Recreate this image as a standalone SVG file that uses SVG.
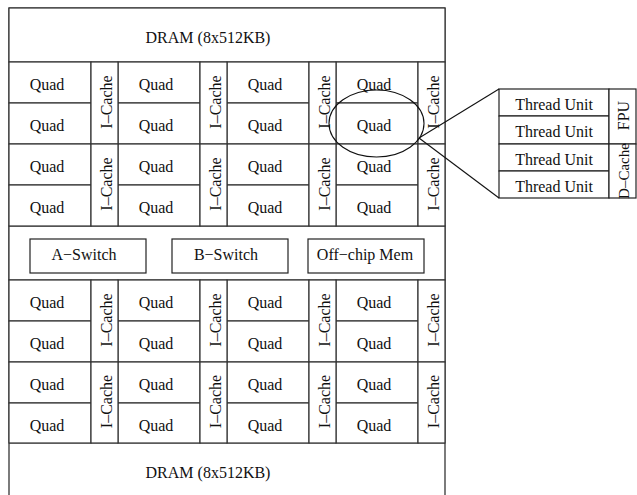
<svg xmlns="http://www.w3.org/2000/svg" width="637" height="495" viewBox="0 0 637 495">
<style>
.c{fill:#fff;stroke:#333;stroke-width:1.2}
.b{fill:#fff;stroke:#222;stroke-width:1.2}
.t{font-family:"Liberation Serif","Times New Roman",serif;font-size:16px;fill:#111;text-anchor:middle}
.ln{fill:none;stroke:#111;stroke-width:1.1}
</style>
<rect width="637" height="495" fill="#fff"/>
<g id="frame"><path d="M9,495 V8 H445 V495" class="ln" stroke="#333"/></g>
<g id="dram-top"><rect x="9" y="8" width="436" height="54" class="c"/><text class="t" x="208" y="42.5">DRAM (8x512KB)</text></g>
<g id="dram-bottom"><path d="M9,443 H445" class="c"/><text class="t" x="208" y="478">DRAM (8x512KB)</text></g>
<g id="switch-row"><rect x="9" y="226" width="436" height="54" class="c"/></g>
<g id="a-switch"><rect x="30" y="239" width="116" height="34" class="b"/><text class="t" x="84" y="260">A−Switch</text></g>
<g id="b-switch"><rect x="172" y="239" width="116" height="34" class="b"/><text class="t" x="226" y="260">B−Switch</text></g>
<g id="offchip-mem"><rect x="308" y="239" width="116" height="34" class="b"/><text class="t" x="365" y="260">Off−chip Mem</text></g>

<!-- Quads top half -->
<g id="quad-1-1"><rect x="9" y="62" width="82" height="41" class="c"/><text class="t" x="47" y="90">Quad</text></g>
<g id="quad-1-2"><rect x="118" y="62" width="82" height="41" class="c"/><text class="t" x="156" y="90">Quad</text></g>
<g id="quad-1-3"><rect x="227" y="62" width="82" height="41" class="c"/><text class="t" x="265" y="90">Quad</text></g>
<g id="quad-1-4"><rect x="336" y="62" width="82" height="41" class="c"/><text class="t" x="374" y="90">Quad</text></g>
<g id="quad-2-1"><rect x="9" y="103" width="82" height="41" class="c"/><text class="t" x="47" y="131">Quad</text></g>
<g id="quad-2-2"><rect x="118" y="103" width="82" height="41" class="c"/><text class="t" x="156" y="131">Quad</text></g>
<g id="quad-2-3"><rect x="227" y="103" width="82" height="41" class="c"/><text class="t" x="265" y="131">Quad</text></g>
<g id="quad-2-4"><rect x="336" y="103" width="82" height="41" class="c"/><text class="t" x="374" y="131">Quad</text></g>
<g id="quad-3-1"><rect x="9" y="144" width="82" height="41" class="c"/><text class="t" x="47" y="172">Quad</text></g>
<g id="quad-3-2"><rect x="118" y="144" width="82" height="41" class="c"/><text class="t" x="156" y="172">Quad</text></g>
<g id="quad-3-3"><rect x="227" y="144" width="82" height="41" class="c"/><text class="t" x="265" y="172">Quad</text></g>
<g id="quad-3-4"><rect x="336" y="144" width="82" height="41" class="c"/><text class="t" x="374" y="172">Quad</text></g>
<g id="quad-4-1"><rect x="9" y="185" width="82" height="41" class="c"/><text class="t" x="47" y="213">Quad</text></g>
<g id="quad-4-2"><rect x="118" y="185" width="82" height="41" class="c"/><text class="t" x="156" y="213">Quad</text></g>
<g id="quad-4-3"><rect x="227" y="185" width="82" height="41" class="c"/><text class="t" x="265" y="213">Quad</text></g>
<g id="quad-4-4"><rect x="336" y="185" width="82" height="41" class="c"/><text class="t" x="374" y="213">Quad</text></g>
<!-- Quads bottom half -->
<g id="quad-5-1"><rect x="9" y="280" width="82" height="41" class="c"/><text class="t" x="47" y="308">Quad</text></g>
<g id="quad-5-2"><rect x="118" y="280" width="82" height="41" class="c"/><text class="t" x="156" y="308">Quad</text></g>
<g id="quad-5-3"><rect x="227" y="280" width="82" height="41" class="c"/><text class="t" x="265" y="308">Quad</text></g>
<g id="quad-5-4"><rect x="336" y="280" width="82" height="41" class="c"/><text class="t" x="374" y="308">Quad</text></g>
<g id="quad-6-1"><rect x="9" y="321" width="82" height="41" class="c"/><text class="t" x="47" y="349">Quad</text></g>
<g id="quad-6-2"><rect x="118" y="321" width="82" height="41" class="c"/><text class="t" x="156" y="349">Quad</text></g>
<g id="quad-6-3"><rect x="227" y="321" width="82" height="41" class="c"/><text class="t" x="265" y="349">Quad</text></g>
<g id="quad-6-4"><rect x="336" y="321" width="82" height="41" class="c"/><text class="t" x="374" y="349">Quad</text></g>
<g id="quad-7-1"><rect x="9" y="362" width="82" height="41" class="c"/><text class="t" x="47" y="390">Quad</text></g>
<g id="quad-7-2"><rect x="118" y="362" width="82" height="41" class="c"/><text class="t" x="156" y="390">Quad</text></g>
<g id="quad-7-3"><rect x="227" y="362" width="82" height="41" class="c"/><text class="t" x="265" y="390">Quad</text></g>
<g id="quad-7-4"><rect x="336" y="362" width="82" height="41" class="c"/><text class="t" x="374" y="390">Quad</text></g>
<g id="quad-8-1"><rect x="9" y="403" width="82" height="40" class="c"/><text class="t" x="47" y="430.5">Quad</text></g>
<g id="quad-8-2"><rect x="118" y="403" width="82" height="40" class="c"/><text class="t" x="156" y="430.5">Quad</text></g>
<g id="quad-8-3"><rect x="227" y="403" width="82" height="40" class="c"/><text class="t" x="265" y="430.5">Quad</text></g>
<g id="quad-8-4"><rect x="336" y="403" width="82" height="40" class="c"/><text class="t" x="374" y="430.5">Quad</text></g>

<!-- I-Caches -->
<g id="icache-1-1"><rect x="91" y="62" width="27" height="82" class="c"/><text class="t" transform="translate(111.5,102) rotate(-90)">I–Cache</text></g>
<g id="icache-1-2"><rect x="200" y="62" width="27" height="82" class="c"/><text class="t" transform="translate(220.5,102) rotate(-90)">I–Cache</text></g>
<g id="icache-1-3"><rect x="309" y="62" width="27" height="82" class="c"/><text class="t" transform="translate(329.5,102) rotate(-90)">I–Cache</text></g>
<g id="icache-1-4"><rect x="418" y="62" width="27" height="82" class="c"/><text class="t" transform="translate(438.5,102) rotate(-90)">I–Cache</text></g>
<g id="icache-2-1"><rect x="91" y="144" width="27" height="82" class="c"/><text class="t" transform="translate(111.5,184) rotate(-90)">I–Cache</text></g>
<g id="icache-2-2"><rect x="200" y="144" width="27" height="82" class="c"/><text class="t" transform="translate(220.5,184) rotate(-90)">I–Cache</text></g>
<g id="icache-2-3"><rect x="309" y="144" width="27" height="82" class="c"/><text class="t" transform="translate(329.5,184) rotate(-90)">I–Cache</text></g>
<g id="icache-2-4"><rect x="418" y="144" width="27" height="82" class="c"/><text class="t" transform="translate(438.5,184) rotate(-90)">I–Cache</text></g>
<g id="icache-3-1"><rect x="91" y="280" width="27" height="82" class="c"/><text class="t" transform="translate(111.5,320) rotate(-90)">I–Cache</text></g>
<g id="icache-3-2"><rect x="200" y="280" width="27" height="82" class="c"/><text class="t" transform="translate(220.5,320) rotate(-90)">I–Cache</text></g>
<g id="icache-3-3"><rect x="309" y="280" width="27" height="82" class="c"/><text class="t" transform="translate(329.5,320) rotate(-90)">I–Cache</text></g>
<g id="icache-3-4"><rect x="418" y="280" width="27" height="82" class="c"/><text class="t" transform="translate(438.5,320) rotate(-90)">I–Cache</text></g>
<g id="icache-4-1"><rect x="91" y="362" width="27" height="81" class="c"/><text class="t" transform="translate(111.5,401.5) rotate(-90)">I–Cache</text></g>
<g id="icache-4-2"><rect x="200" y="362" width="27" height="81" class="c"/><text class="t" transform="translate(220.5,401.5) rotate(-90)">I–Cache</text></g>
<g id="icache-4-3"><rect x="309" y="362" width="27" height="81" class="c"/><text class="t" transform="translate(329.5,401.5) rotate(-90)">I–Cache</text></g>
<g id="icache-4-4"><rect x="418" y="362" width="27" height="81" class="c"/><text class="t" transform="translate(438.5,401.5) rotate(-90)">I–Cache</text></g>

<!-- Zoom highlight -->
<g id="zoom-ellipse"><ellipse cx="376.5" cy="123.5" rx="47.5" ry="33.5" class="ln"/></g>

<!-- Quad detail -->
<g id="thread-unit-1"><rect x="499" y="89" width="110" height="27" class="b"/><text class="t" x="554" y="109.5">Thread Unit</text></g>
<g id="thread-unit-2"><rect x="499" y="116" width="110" height="28" class="b"/><text class="t" x="554" y="137">Thread Unit</text></g>
<g id="thread-unit-3"><rect x="499" y="144" width="110" height="27" class="b"/><text class="t" x="554" y="164.5">Thread Unit</text></g>
<g id="thread-unit-4"><rect x="499" y="171" width="110" height="27" class="b"/><text class="t" x="554" y="191.5">Thread Unit</text></g>
<g id="fpu"><rect x="609" y="89" width="27" height="55" class="b"/><text class="t" transform="translate(629,115.5) rotate(-90)">FPU</text></g>
<g id="dcache"><rect x="609" y="144" width="27" height="54" class="b"/><text class="t" style="font-size:15px" transform="translate(629,171) rotate(-90)">D–Cache</text></g>

<g id="connectors">
<line x1="419" y1="138" x2="499" y2="89" class="ln"/>
<line x1="419" y1="138" x2="499" y2="198" class="ln"/>
</g>
</svg>
